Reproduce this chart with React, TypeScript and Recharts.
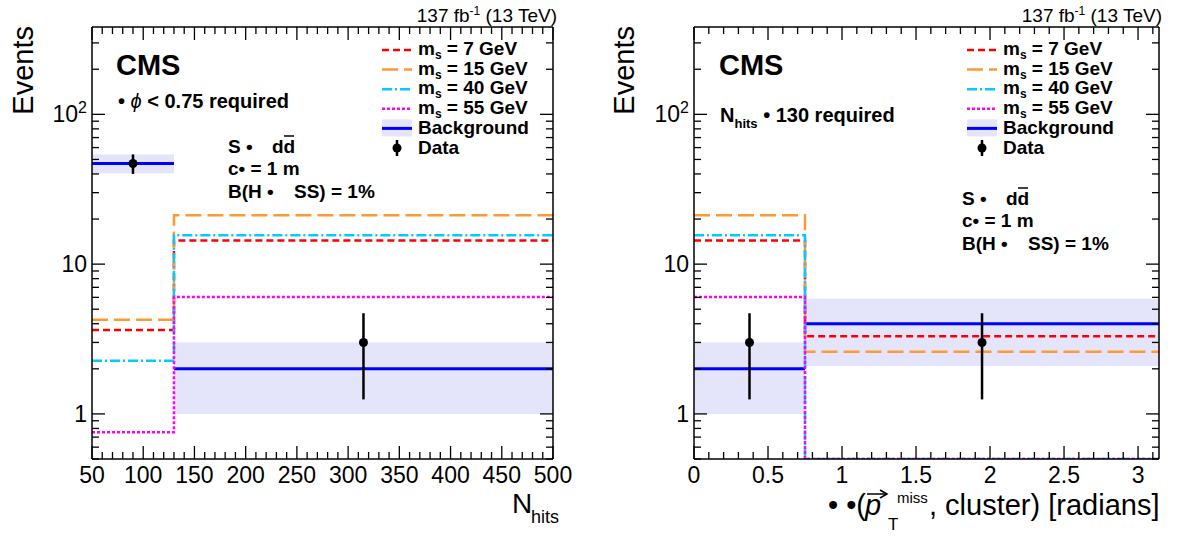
import React from 'react';
import { ComposedChart, Line, Area, Scatter, ErrorBar, XAxis, YAxis } from 'recharts';

const FONT = '"Liberation Sans", Arial, Helvetica, sans-serif';

// shared log y axis
const Y_MIN = 0.5;
const Y_MAX = 383;
const Y_MAJOR = [1, 10, 100];
const Y_MINOR = [0.5, 0.6, 0.7, 0.8, 0.9, 2, 3, 4, 5, 6, 7, 8, 9, 20, 30, 40, 50, 60, 70, 80, 90, 200, 300];

// left panel: N_hits, two bins
const NHITS_EDGES = [50, 130, 500];
const NHITS_MAJOR = [50, 100, 150, 200, 250, 300, 350, 400, 450, 500];
const NHITS_MS7 = [3.63, 14.4];
const NHITS_MS15 = [4.25, 21.2];
const NHITS_MS40 = [2.26, 15.6];
const NHITS_MS55 = [0.755, 6.03];
const NHITS_BKG = [47, 2.0];
const NHITS_BKG_LO = [40.5, 1.0];
const NHITS_BKG_HI = [54, 3.0];
const NHITS_DATA_X = [90, 315];
const NHITS_DATA = [47, 3];
const NHITS_DATA_LO = [40, 1.25];
const NHITS_DATA_HI = [54, 4.7];

// right panel: delta phi, two bins
const DPHI_EDGES = [0, 0.75, Math.PI];
const DPHI_MAJOR = [0, 0.5, 1, 1.5, 2, 2.5, 3];
const DPHI_MS7 = [14.4, 3.3];
const DPHI_MS15 = [21.2, 2.6];
const DPHI_MS40 = [15.6, 0];
const DPHI_MS55 = [6.03, 0];
const DPHI_BKG = [2.0, 4.0];
const DPHI_BKG_LO = [1.0, 2.09];
const DPHI_BKG_HI = [3.0, 5.87];
const DPHI_DATA_X = [0.375, 1.946];
const DPHI_DATA = [3, 3];
const DPHI_DATA_LO = [1.25, 1.25];
const DPHI_DATA_HI = [4.7, 4.7];

const SIGNALS = [
  { name: '7', color: '#ff0000', dash: '7 4' },
  { name: '15', color: '#ff9933', dash: '16 6' },
  { name: '40', color: '#00ccff', dash: '10 3 2 3' },
  { name: '55', color: '#ff00ff', dash: '3 2' },
];

const H = 536;
const PLOT_TOP = 27;
const PLOT_BOTTOM = 459;
const MAJOR_LEN = 13;
const MINOR_LEN = 7;

const clampY = (v: number) => Math.max(v, Y_MIN);

function stepRows(edges: number[], vals: number[]) {
  return edges.map((x, i) => ({ x, y: clampY(vals[Math.min(i, vals.length - 1)]) }));
}

function bandRows(edges: number[], lo: number[], hi: number[]) {
  return edges.map((x, i) => {
    const k = Math.min(i, lo.length - 1);
    return { x, band: [lo[k], hi[k]] };
  });
}

function segRows(edges: number[], vals: number[]) {
  const rows: { x: number; y: number | null }[] = [];
  vals.forEach((v, i) => {
    rows.push({ x: edges[i], y: v }, { x: edges[i + 1], y: v }, { x: edges[i + 1], y: null });
  });
  return rows;
}

function pointRows(xs: number[], vals: number[], lo: number[], hi: number[]) {
  return xs.map((x, i) => ({ x, y: vals[i], err: [vals[i] - lo[i], hi[i] - vals[i]] }));
}

function minorTicks(from: number, to: number, step: number) {
  const out: number[] = [];
  const n = Math.floor((to - from) / step + 1e-9);
  for (let i = 0; i <= n; i++) out.push(+(from + i * step).toFixed(6));
  return out;
}

const near = (list: number[], v: number) => list.some((m) => Math.abs(m - v) < 1e-6);

function xTick(side: 'bottom' | 'top', major: number[]) {
  return (p: any) => {
    const v = p.payload.value;
    const isMaj = near(major, v);
    const len = isMaj ? MAJOR_LEN : MINOR_LEN;
    const dir = side === 'bottom' ? -1 : 1;
    return (
      <g>
        <line x1={p.x} x2={p.x} y1={p.y} y2={p.y + dir * len} stroke="#000" strokeWidth={1.3} />
        {side === 'bottom' && isMaj && (
          <text x={p.x} y={p.y + 24} textAnchor="middle" fontSize={23} fontFamily={FONT} fill="#000">
            {String(v)}
          </text>
        )}
      </g>
    );
  };
}

function yTick(side: 'left' | 'right') {
  return (p: any) => {
    const v = p.payload.value;
    const isMaj = near(Y_MAJOR, v);
    const len = isMaj ? MAJOR_LEN : MINOR_LEN;
    const dir = side === 'left' ? 1 : -1;
    return (
      <g>
        <line x1={p.x} x2={p.x + dir * len} y1={p.y} y2={p.y} stroke="#000" strokeWidth={1.3} />
        {side === 'left' && isMaj && (
          <text x={p.x - 5} y={p.y + 8} textAnchor="end" fontSize={23} fontFamily={FONT} fill="#000">
            {v === 100 ? (
              <>
                <tspan>10</tspan>
                <tspan dy={-9} fontSize={16}>2</tspan>
              </>
            ) : (
              String(v)
            )}
          </text>
        )}
      </g>
    );
  };
}

type PanelProps = {
  left: number;
  width: number;
  plotL: number;
  plotR: number;
  edges: number[];
  xMajor: number[];
  xStep: number;
  sig: number[][];
  bkg: number[];
  bkgLo: number[];
  bkgHi: number[];
  dataX: number[];
  data: number[];
  dataLo: number[];
  dataHi: number[];
};

function Panel(props: PanelProps) {
  const { left, width, plotL, plotR, edges, xMajor, xStep } = props;
  const xDomain = [edges[0], edges[edges.length - 1]];
  const xTicks = minorTicks(edges[0], edges[edges.length - 1], xStep);
  const yTicks = [...Y_MINOR, ...Y_MAJOR].sort((a, b) => a - b);
  const axisLine = { stroke: '#000', strokeWidth: 1.5 };

  // each axis is 1px thick, so margins are reduced by 1 to keep the frame in place
  return (
    <div style={{ position: 'absolute', left, top: 0 }}>
      <ComposedChart
        width={width}
        height={H}
        margin={{
          top: PLOT_TOP - 1,
          bottom: H - PLOT_BOTTOM - 1,
          left: plotL - left - 1,
          right: left + width - plotR - 1,
        }}
      >
        <XAxis xAxisId="b" type="number" dataKey="x" domain={xDomain} allowDataOverflow ticks={xTicks} interval={0}
          height={1} tickSize={0} tickMargin={0} tickLine={false} axisLine={axisLine} tick={xTick('bottom', xMajor)} />
        <XAxis xAxisId="t" orientation="top" type="number" dataKey="x" domain={xDomain} allowDataOverflow ticks={xTicks}
          interval={0} height={1} tickSize={0} tickMargin={0} tickLine={false} axisLine={axisLine} tick={xTick('top', xMajor)} />
        <YAxis yAxisId="l" type="number" scale="log" domain={[Y_MIN, Y_MAX]} allowDataOverflow ticks={yTicks} interval={0}
          width={1} tickSize={0} tickMargin={0} tickLine={false} axisLine={axisLine} tick={yTick('left')} />
        <YAxis yAxisId="r" orientation="right" type="number" scale="log" domain={[Y_MIN, Y_MAX]} allowDataOverflow
          ticks={yTicks} interval={0} width={1} tickSize={0} tickMargin={0} tickLine={false} axisLine={axisLine}
          tick={yTick('right')} />
        <Area xAxisId="b" yAxisId="l" data={bandRows(edges, props.bkgLo, props.bkgHi)} dataKey="band" type="stepAfter"
          fill="#e4e4fa" fillOpacity={1} stroke="none" isAnimationActive={false} />
        <Line xAxisId="b" yAxisId="l" data={segRows(edges, props.bkg)} dataKey="y" type="linear" stroke="#0000ff"
          strokeWidth={3} dot={false} connectNulls={false} isAnimationActive={false} />
        {SIGNALS.map((s, i) => (
          <Line key={s.name} xAxisId="b" yAxisId="l" data={stepRows(edges, props.sig[i])} dataKey="y" type="stepAfter"
            stroke={s.color} strokeWidth={2.5} strokeDasharray={s.dash} dot={false} isAnimationActive={false} />
        ))}
        <Scatter xAxisId="b" yAxisId="l" data={pointRows(props.dataX, props.data, props.dataLo, props.dataHi)} dataKey="y"
          isAnimationActive={false} shape={(p: any) => <circle cx={p.cx} cy={p.cy} r={4.5} fill="#000" />}>
          <ErrorBar dataKey="err" direction="y" width={0} stroke="#000" strokeWidth={2.5} />
        </Scatter>
      </ComposedChart>
    </div>
  );
}

function LegendBlock({ x, textX, y0 }: { x: number; textX: number; y0: number }) {
  const step = 19.6;
  const w = 30;
  return (
    <g fontFamily={FONT} fontWeight="bold" fontSize={19} fill="#000">
      {SIGNALS.map((s, i) => {
        const by = y0 + i * step;
        return (
          <g key={s.name}>
            <line x1={x} x2={x + w} y1={by - 5} y2={by - 5} stroke={s.color} strokeWidth={2.5} strokeDasharray={s.dash} />
            <text x={textX} y={by}>
              <tspan>m</tspan>
              <tspan dy={4} fontSize={12}>s</tspan>
              <tspan dy={-4}>{` = ${s.name} GeV`}</tspan>
            </text>
          </g>
        );
      })}
      <rect x={x} y={y0 + 4 * step - 14} width={w} height={17} fill="#e4e4fa" />
      <line x1={x} x2={x + w} y1={y0 + 4 * step - 5} y2={y0 + 4 * step - 5} stroke="#0000ff" strokeWidth={3} />
      <text x={textX} y={y0 + 4 * step + 1}>Background</text>
      <line x1={x + w / 2} x2={x + w / 2} y1={y0 + 5 * step - 13} y2={y0 + 5 * step + 3} stroke="#000" strokeWidth={2.5} />
      <circle cx={x + w / 2} cy={y0 + 5 * step - 5} r={4.5} fill="#000" />
      <text x={textX} y={y0 + 5 * step + 1}>Data</text>
    </g>
  );
}

function ModelText({ x, y }: { x: number; y: number }) {
  return (
    <g fontFamily={FONT} fontWeight="bold" fontSize={19} fill="#000">
      <text x={x} y={y}>S •</text>
      <text x={x + 44} y={y}>dd</text>
      <line x1={x + 56} x2={x + 66} y1={y - 17} y2={y - 17} stroke="#000" strokeWidth={1.5} />
      <text x={x} y={y + 22}>c• = 1 m</text>
      <text x={x} y={y + 45}>B(H •</text>
      <text x={x + 66} y={y + 45}>SS) = 1%</text>
    </g>
  );
}

function Lumi({ x }: { x: number }) {
  return (
    <text x={x} y={22} textAnchor="end" fontFamily={FONT} fontSize={19} fill="#000">
      <tspan>137 fb</tspan>
      <tspan dy={-7} fontSize={12}>-1</tspan>
      <tspan dy={7}> (13 TeV)</tspan>
    </text>
  );
}

function Overlay() {
  return (
    <svg width={1177} height={H} style={{ position: 'absolute', left: 0, top: 0, pointerEvents: 'none' }}>
      <Lumi x={557} />
      <Lumi x={1162} />
      <text transform="translate(33,26) rotate(-90)" textAnchor="end" fontFamily={FONT} fontSize={29} fill="#000">Events</text>
      <text transform="translate(634,26) rotate(-90)" textAnchor="end" fontFamily={FONT} fontSize={29} fill="#000">Events</text>
      <text x={116} y={75} fontFamily={FONT} fontWeight="bold" fontSize={29} fill="#000">CMS</text>
      <text x={719} y={75} fontFamily={FONT} fontWeight="bold" fontSize={29} fill="#000">CMS</text>

      <text x={118} y={108} fontFamily={FONT} fontWeight="bold" fontSize={20} fill="#000">
        <tspan>• </tspan>
        <tspan fontStyle="italic" fontWeight="normal">ϕ</tspan>
        <tspan> &lt; 0.75 required</tspan>
      </text>
      <text x={720} y={122} fontFamily={FONT} fontWeight="bold" fontSize={20} fill="#000">
        <tspan>N</tspan>
        <tspan dy={6} fontSize={13}>hits</tspan>
        <tspan dy={-6}> •  130 required</tspan>
      </text>

      <ModelText x={228} y={153} />
      <ModelText x={962} y={205} />

      <LegendBlock x={382} textX={418} y0={55} />
      <LegendBlock x={967} textX={1003} y0={55} />

      {/* x axis titles */}
      <text x={512} y={513} fontFamily={FONT} fontSize={28} fill="#000">N</text>
      <text x={531} y={523} fontFamily={FONT} fontSize={18} fill="#000">hits</text>

      <g fontFamily={FONT} fill="#000">
        <text x={828} y={515} fontSize={29}>• •(</text>
        <text x={865} y={515} fontSize={29} fontStyle="italic">p</text>
        <line x1={867} x2={886} y1={494} y2={494} stroke="#000" strokeWidth={1.5} />
        <path d="M880,490 L887,494 L880,498" fill="none" stroke="#000" strokeWidth={1.5} />
        <text x={897} y={503} fontSize={15}>miss</text>
        <text x={888} y={530} fontSize={17}>T</text>
        <text x={929} y={515} fontSize={29}>, cluster) [radians]</text>
      </g>
    </svg>
  );
}

export default function App() {
  return (
    <div style={{ position: 'absolute', left: 0, top: 0, width: 1177, height: H, background: '#fff' }}>
      <Panel
        left={0}
        width={590}
        plotL={92}
        plotR={553}
        edges={NHITS_EDGES}
        xMajor={NHITS_MAJOR}
        xStep={10}
        sig={[NHITS_MS7, NHITS_MS15, NHITS_MS40, NHITS_MS55]}
        bkg={NHITS_BKG}
        bkgLo={NHITS_BKG_LO}
        bkgHi={NHITS_BKG_HI}
        dataX={NHITS_DATA_X}
        data={NHITS_DATA}
        dataLo={NHITS_DATA_LO}
        dataHi={NHITS_DATA_HI}
      />
      <Panel
        left={590}
        width={587}
        plotL={694}
        plotR={1159}
        edges={DPHI_EDGES}
        xMajor={DPHI_MAJOR}
        xStep={0.1}
        sig={[DPHI_MS7, DPHI_MS15, DPHI_MS40, DPHI_MS55]}
        bkg={DPHI_BKG}
        bkgLo={DPHI_BKG_LO}
        bkgHi={DPHI_BKG_HI}
        dataX={DPHI_DATA_X}
        data={DPHI_DATA}
        dataLo={DPHI_DATA_LO}
        dataHi={DPHI_DATA_HI}
      />
      <Overlay />
    </div>
  );
}
